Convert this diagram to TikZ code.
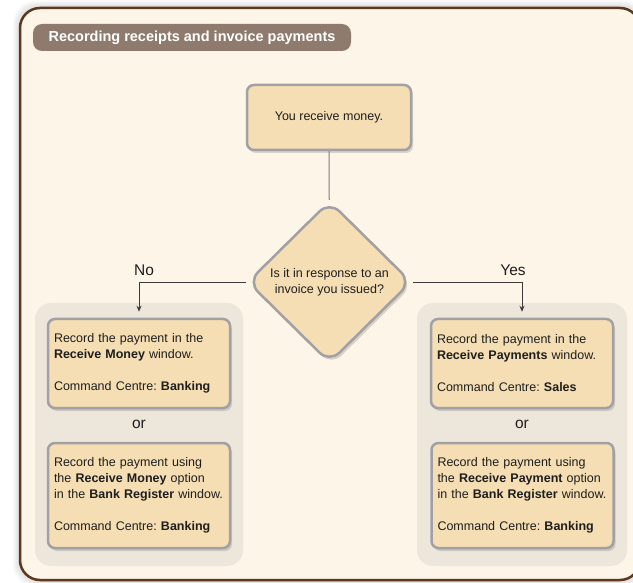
\documentclass[tikz,border=0pt]{standalone}
\usepackage{fontspec}
\setmainfont{Liberation Sans}
\usetikzlibrary{shapes.geometric,shadows,arrows.meta}
\frenchspacing

\definecolor{framefill}{RGB}{253,245,231}
\definecolor{framebrown}{RGB}{92,56,30}
\definecolor{pillfill}{RGB}{143,123,110}
\definecolor{panelfill}{RGB}{237,230,219}
\definecolor{boxfill}{RGB}{245,222,179}
\definecolor{boxline}{RGB}{160,160,165}
\definecolor{textcol}{RGB}{30,30,30}
\definecolor{linkcol}{RGB}{60,60,60}

\begin{document}
\begin{tikzpicture}[x=1pt,y=-1pt,
	stepbox/.style={draw=boxline, line width=2.5pt, fill=boxfill, rounded corners=7pt,
		drop shadow={shadow xshift=2pt, shadow yshift=-3pt, opacity=0.3},
		inner xsep=6pt, inner ysep=4pt, text=textcol,
		font=\fontsize{12.5}{16}\selectfont},
	sidebox/.style={stepbox, text width=170pt, align=left},
	choice/.style={diamond, aspect=1, draw=boxline, line width=2.5pt, fill=boxfill,
		rounded corners=14pt, inner sep=0pt, minimum width=164pt, minimum height=162pt,
		drop shadow={shadow xshift=2pt, shadow yshift=-3pt, opacity=0.3},
		align=center, text=textcol, font=\fontsize{12.5}{16}\selectfont},
	branch/.style={text=textcol, font=\fontsize{15.5}{18}\selectfont},
	link/.style={draw=linkcol, line width=0.8pt, -{Stealth[length=6pt,width=5pt]}, shorten >=6pt}]

		% page and frame
		\useasboundingbox (0,0) rectangle (633,583);
		\fill[white] (0,0) rectangle (633,583);
		\foreach \s in {1,...,7}
			\fill[black, opacity=0.018, rounded corners=22pt] (20-\s,8-\s) rectangle (640+\s,580+\s);
		\draw[draw=framebrown, line width=2.5pt, fill=framefill, rounded corners=20pt] (20,8) rectangle (640,580);

		\node[fill=pillfill, rounded corners=9pt, minimum width=318pt, minimum height=27pt,
			text=white, font=\bfseries\fontsize{14.5}{16}\selectfont] (title) at (192,37.5)
			{Recording receipts and invoice payments};

		% grey panels behind the two branches
		\fill[panelfill, rounded corners=16pt] (35,303) rectangle (243,566);
		\fill[panelfill, rounded corners=16pt] (417,303) rectangle (627,566);

		\node[stepbox, align=center, minimum width=164pt, minimum height=65pt] (start) at (329,117.5) {You receive money.};
		\node[choice] (decide) at (329.5,282) {Is it in response to an\\invoice you issued?};

		\node[sidebox, minimum height=89pt] (money) at (139,363.5)
			{Record the payment in the\\\textbf{Receive Money} window.\\[16pt]Command Centre: \textbf{Banking}};
		\node[branch] (orleft) at (139,424) {or};
		\node[sidebox, minimum height=105pt] (moneyreg) at (139,495.5)
			{Record the payment using\\the \textbf{Receive Money} option\\in the \textbf{Bank Register} window.\\[16pt]Command Centre: \textbf{Banking}};

		\node[sidebox, minimum height=89pt] (payments) at (522,363.5)
			{Record the payment in the\\\textbf{Receive Payments} window.\\[16pt]Command Centre: \textbf{Sales}};
		\node[branch] (orright) at (522,424) {or};
		\node[sidebox, minimum height=105pt] (paymentreg) at (522.5,495.5)
			{Record the payment using\\the \textbf{Receive Payment} option\\in the \textbf{Bank Register} window.\\[16pt]Command Centre: \textbf{Banking}};

		\node[branch] (no) at (144,270) {No};
		\node[branch] (yes) at (513,270) {Yes};

		\draw[draw=gray, line width=1pt] (start) -- (decide);
		\draw[link] (decide.west) -| (money.north);
		\draw[link] (decide.east) -| (payments.north);

	\end{tikzpicture}
\end{document}
